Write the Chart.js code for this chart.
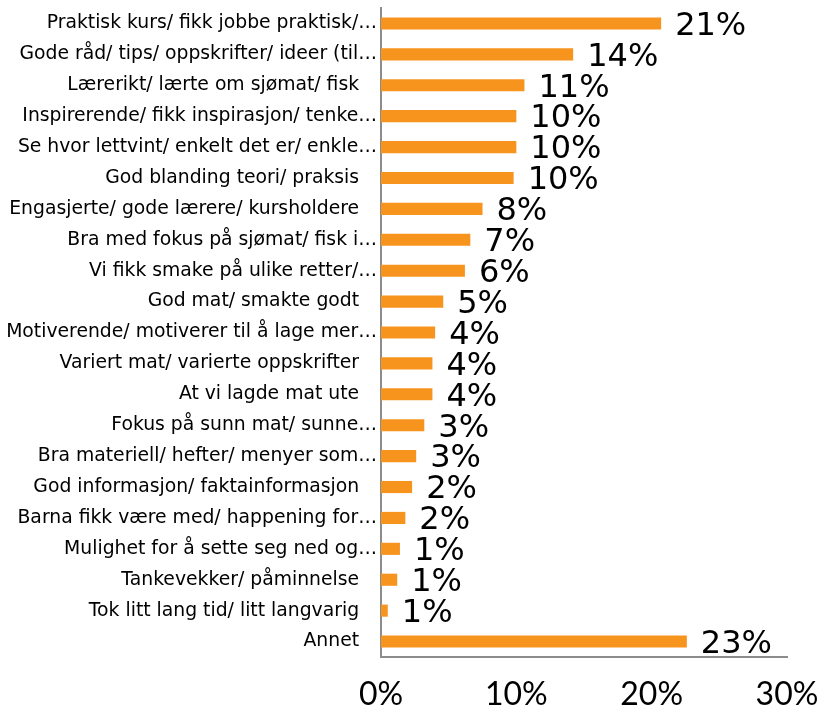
<!DOCTYPE html>
<html>
<head>
<meta charset="utf-8">
<script src="https://cdn.jsdelivr.net/npm/chart.js@4.4.1/dist/chart.umd.min.js"></script>
<style>
  html, body { margin: 0; padding: 0; background: #ffffff; }
  #wrap { width: 820px; height: 705px; position: relative; }
</style>
</head>
<body>
<div id="wrap"><canvas id="c" width="820" height="705"></canvas></div>
<script>
const categories = [
  "Praktisk kurs/ fikk jobbe praktisk/…",
  "Gode råd/ tips/ oppskrifter/ ideer (til…",
  "Lærerikt/ lærte om sjømat/ fisk",
  "Inspirerende/ fikk inspirasjon/ tenke…",
  "Se hvor lettvint/ enkelt det er/ enkle…",
  "God blanding teori/ praksis",
  "Engasjerte/ gode lærere/ kursholdere",
  "Bra med fokus på sjømat/ fisk i…",
  "Vi fikk smake på ulike retter/…",
  "God mat/ smakte godt",
  "Motiverende/ motiverer til å lage mer…",
  "Variert mat/ varierte oppskrifter",
  "At vi lagde mat ute",
  "Fokus på sunn mat/ sunne…",
  "Bra materiell/ hefter/ menyer som…",
  "God informasjon/ faktainformasjon",
  "Barna fikk være med/ happening for…",
  "Mulighet for å sette seg ned og…",
  "Tankevekker/ påminnelse",
  "Tok litt lang tid/ litt langvarig",
  "Annet"
];
const values = [20.7, 14.2, 10.6, 10.0, 10.0, 9.8, 7.5, 6.6, 6.2, 4.6, 4.0, 3.8, 3.8, 3.2, 2.6, 2.3, 1.8, 1.4, 1.2, 0.5, 22.6];
const valueLabels = ["21%","14%","11%","10%","10%","10%","8%","7%","6%","5%","4%","4%","4%","3%","3%","2%","2%","1%","1%","1%","23%"];
const xTicks = [0, 10, 20, 30];

const barLabelPlugin = {
  id: 'barLabels',
  afterDatasetsDraw(chart) {
    const ctx = chart.ctx;
    const meta = chart.getDatasetMeta(0);
    ctx.save();
    ctx.font = '32px "DejaVu Sans"';
    ctx.fillStyle = '#000000';
    ctx.textAlign = 'left';
    ctx.textBaseline = 'middle';
    meta.data.forEach((bar, i) => {
      ctx.fillText(valueLabels[i], bar.x + 14, bar.y + 3);
    });
    ctx.restore();
  }
};

new Chart(document.getElementById('c'), {
  type: 'bar',
  data: {
    labels: categories,
    datasets: [{
      data: values,
      backgroundColor: '#F7941E',
      borderWidth: 0,
      barPercentage: 0.8,
      categoryPercentage: 0.49
    }]
  },
  options: {
    indexAxis: 'y',
    responsive: false,
    animation: false,
    layout: { padding: { top: 8, right: 33, left: 0, bottom: 0 } },
    plugins: { legend: { display: false }, tooltip: { enabled: false } },
    scales: {
      x: {
        min: 0, max: 30,
        afterBuildTicks(scale) { scale.ticks = xTicks.map(v => ({ value: v })); },
        afterFit(scale) { scale.height = 48; scale.paddingLeft = 0; scale.paddingRight = 0; },
        grid: { display: false, drawTicks: false },
        border: { display: true, color: '#8c8c8c', width: 2 },
        ticks: {
          padding: 18,
          color: '#000000',
          font: { family: 'Lato', size: 32 },
          callback: (v) => v + '%'
        }
      },
      y: {
        afterFit(scale) { scale.width = 381; scale.paddingTop = 0; scale.paddingBottom = 0; },
        grid: { display: false, drawTicks: false },
        border: { display: true, color: '#8c8c8c', width: 2 },
        ticks: {
          padding: 4,
          color: '#000000',
          autoSkip: false,
          font: { family: 'DejaVu Sans', size: 18.8 },
          callback: function(v, i) {
            const s = categories[i];
            return s.endsWith('…') ? s : s + '\u00a0\u00a0\u00a0';
          }
        }
      }
    }
  },
  plugins: [barLabelPlugin]
});
</script>
</body>
</html>
